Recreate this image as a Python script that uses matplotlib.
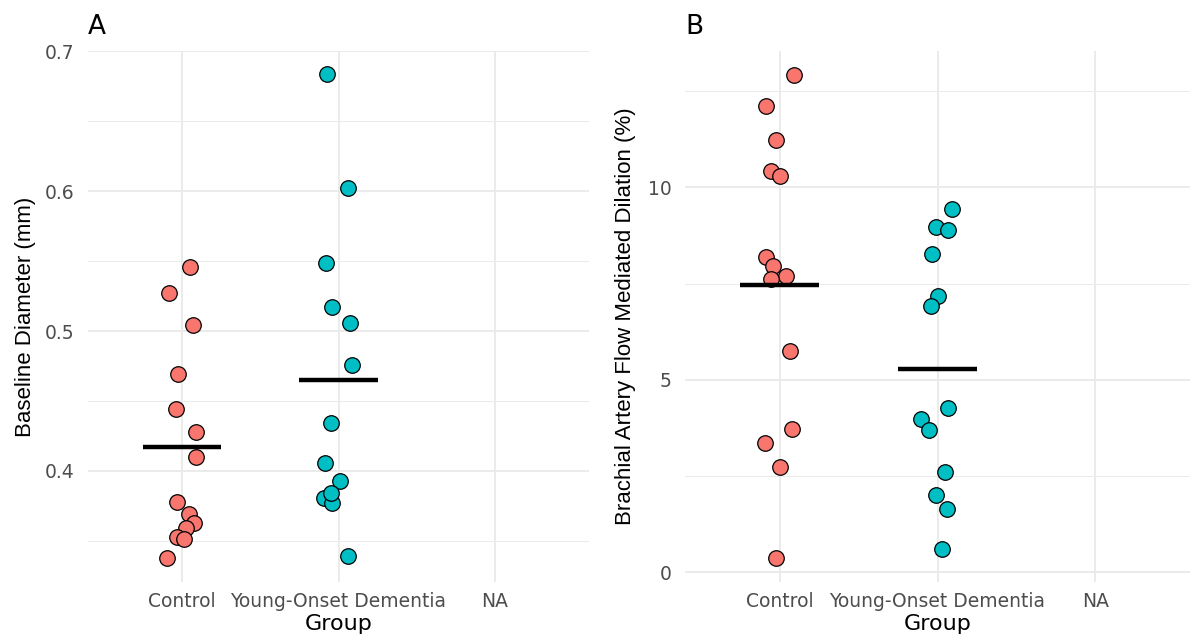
import matplotlib
matplotlib.use("Agg")
import matplotlib.pyplot as plt
import numpy as np

plt.rcParams['font.family'] = ['DejaVu Sans']

categories = ["Control", "Young-Onset Dementia", "NA"]
colors = {"Control": "#F8766D", "Young-Onset Dementia": "#00BFC4"}

# Panel A: Baseline diameter (mm)
diam_control = [0.546, 0.527, 0.504, 0.469, 0.444, 0.428, 0.410, 0.378, 0.369,
                0.363, 0.359, 0.353, 0.351, 0.338]
diam_control_jit = [0.049, -0.080, 0.071, -0.024, -0.039, 0.088, 0.088, -0.034,
                    0.046, 0.078, 0.024, -0.029, 0.012, -0.097]
diam_yod = [0.684, 0.602, 0.549, 0.517, 0.506, 0.476, 0.434, 0.406, 0.393,
            0.381, 0.377, 0.384, 0.339]
diam_yod_jit = [-0.075, 0.059, -0.080, -0.039, 0.071, 0.088, -0.048, -0.087,
                0.010, -0.090, -0.041, -0.048, 0.061]

# Panel B: FMD (%)
fmd_control = [12.93, 12.11, 11.24, 10.43, 10.31, 8.18, 7.97, 7.71, 7.63,
               5.74, 3.71, 3.36, 2.72, 0.36]
fmd_control_jit = [0.088, -0.086, -0.021, -0.053, 0.004, -0.084, -0.045, 0.043,
                   -0.053, 0.064, 0.079, -0.096, 0.004, -0.021]
fmd_yod = [9.44, 8.98, 8.90, 8.27, 7.19, 6.92, 4.27, 3.99, 3.70, 2.61, 2.00,
           1.65, 0.60]
fmd_yod_jit = [0.091, -0.009, 0.067, -0.038, 0.000, -0.042, 0.064, -0.104,
               -0.054, 0.050, -0.010, 0.062, 0.026]

W, H = 1190, 639
fig = plt.figure(figsize=(W / 100, H / 100), dpi=100)

def px_axes(l, r, t, b):
    return fig.add_axes([l / W, 1 - b / H, (r - l) / W, (b - t) / H])

def style(ax, ylabel, ylim, yticks, yminor, ylab_x):
    ax.set_xlim(0.4, 3.6)
    ax.set_ylim(*ylim)
    ax.set_xticks([1, 2, 3])
    ax.set_xticklabels(categories)
    ax.set_yticks(yticks)
    ax.set_yticks(yminor, minor=True)
    for s in ax.spines.values():
        s.set_visible(False)
    ax.tick_params(axis='both', which='both', length=0, labelsize=13.5,
                   labelcolor='#4D4D4D')
    ax.tick_params(axis='x', pad=7)
    ax.tick_params(axis='y', pad=9.5)
    ax.grid(True, which='major', color='#EBEBEB', lw=1.4, zorder=0)
    ax.grid(True, which='minor', axis='y', color='#EBEBEB', lw=0.7, zorder=0)
    ax.set_axisbelow(True)
    ax.set_xlabel("Group", fontsize=16, labelpad=2.5)
    ax.set_ylabel(ylabel, fontsize=16, family=['Liberation Sans', 'DejaVu Sans'])
    pos = ax.get_position()
    ax.yaxis.set_label_coords(ylab_x, pos.y0 + pos.height / 2,
                              transform=fig.transFigure)
    ax.yaxis.label.set_va('center')

def draw(ax, groups):
    for i, (name, vals, jit) in enumerate(groups, start=1):
        x = np.full(len(vals), i, dtype=float) + np.array(jit)
        ax.scatter(x, vals, s=125, c=colors[name], edgecolors='black',
                   linewidths=0.9, zorder=3)
        m = np.mean(vals)
        ax.hlines(m, i - 0.25, i + 0.25, colors='black', lw=3.2, zorder=4)

axA = px_axes(88, 589, 51, 582)
draw(axA, [("Control", diam_control, diam_control_jit),
           ("Young-Onset Dementia", diam_yod, diam_yod_jit)])
style(axA, "Baseline Diameter (mm)", (0.3206, 0.7002), [0.4, 0.5, 0.6, 0.7],
      [0.35, 0.45, 0.55, 0.65], 25 / W)

axB = px_axes(685, 1190, 51, 582)
draw(axB, [("Control", fmd_control, fmd_control_jit),
           ("Young-Onset Dementia", fmd_yod, fmd_yod_jit)])
style(axB, "Brachial Artery Flow Mediated Dilation (%)", (-0.26, 13.55),
      [0, 5, 10], [2.5, 7.5, 12.5], 626 / W)

fig.text(88 / W, 1 - 34 / H, "A", fontsize=19, va='baseline', ha='left')
fig.text(685 / W, 1 - 34 / H, "B", fontsize=19, va='baseline', ha='left')

fig.savefig("out.png", dpi=100, facecolor='white')
